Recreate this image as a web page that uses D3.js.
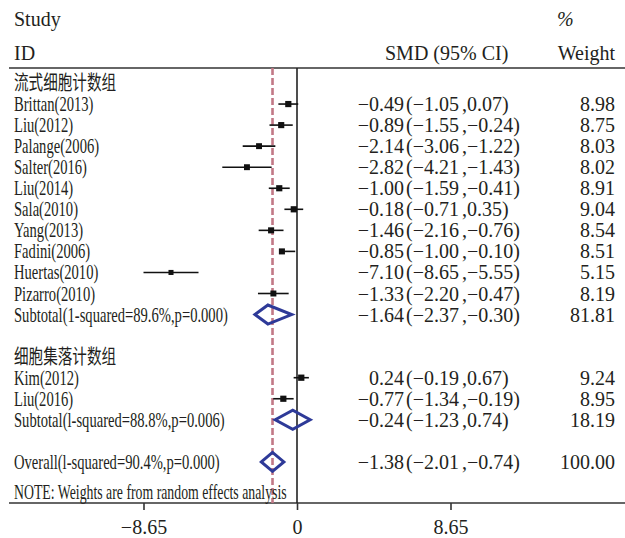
<!DOCTYPE html>
<html>
<head>
<meta charset="utf-8">
<script src="https://cdn.jsdelivr.net/npm/d3@7"></script>
<style>
  html, body { margin: 0; padding: 0; background: #fff; }
  svg { display: block; }
  text { font-family: "Liberation Serif", "Noto Sans CJK SC", serif; fill: #231f20; }
</style>
</head>
<body>
<svg id="chart" width="625" height="538"></svg>
<script>
// ---------------- data ----------------
const group1Title = "流式细胞计数组";
const group1Studies = ["Brittan(2013)", "Liu(2012)", "Palange(2006)", "Salter(2016)", "Liu(2014)",
  "Sala(2010)", "Yang(2013)", "Fadini(2006)", "Huertas(2010)", "Pizarro(2010)"];
const group1SMD    = [-0.49, -0.89, -2.14, -2.82, -1.00, -0.18, -1.46, -0.85, -7.10, -1.33];
const group1Lower  = [-1.05, -1.55, -3.06, -4.21, -1.59, -0.71, -2.16, -1.00, -8.65, -2.20];
const group1Upper  = [0.07, -0.24, -1.22, -1.43, -0.41, 0.35, -0.76, -0.10, -5.55, -0.47];
const group1Weight = [8.98, 8.75, 8.03, 8.02, 8.91, 9.04, 8.54, 8.51, 5.15, 8.19];

const group2Title = "细胞集落计数组";
const group2Studies = ["Kim(2012)", "Liu(2016)"];
const group2SMD    = [0.24, -0.77];
const group2Lower  = [-0.19, -1.34];
const group2Upper  = [0.67, -0.19];
const group2Weight = [9.24, 8.95];

const pooledLabels = ["Subtotal(1-squared=89.6%,p=0.000)", "Subtotal(l-squared=88.8%,p=0.006)", "Overall(l-squared=90.4%,p=0.000)"];
const pooledSMD    = [-1.64, -0.24, -1.38];
const pooledLower  = [-2.37, -1.23, -2.01];
const pooledUpper  = [-0.30, 0.74, -0.74];
const pooledWeight = [81.81, 18.19, 100.00];

const tickValues = [-8.65, 0, 8.65];
const noteText = "NOTE: Weights are from random effects analysis";

// ---------------- layout ----------------
const svg = d3.select("#chart");
const x = d3.scaleLinear().domain([-8.65, 8.65]).range([143.5, 450.5]);
const rowY = d3.scaleLinear().domain([0, 1]).range([83, 104.05]);
const topLine = 68, axisY = 503;
const leftX = 14, compress = 0.73;
const estX = 404, wRight = 615;
const fmt = d3.format(".2f");
const numFmt = v => fmt(v).replace("-", "\u2212");

// build rows
const rows = [];
rows.push({ i: 0, kind: "title", label: group1Title });
group1Studies.forEach((s, k) => rows.push({ i: 1 + k, kind: "study", label: s,
  smd: group1SMD[k], lo: group1Lower[k], hi: group1Upper[k], w: group1Weight[k] }));
rows.push({ i: 11, kind: "pooled", label: pooledLabels[0], smd: pooledSMD[0], lo: pooledLower[0], hi: pooledUpper[0], w: pooledWeight[0] });
rows.push({ i: 13, kind: "title", label: group2Title });
group2Studies.forEach((s, k) => rows.push({ i: 14 + k, kind: "study", label: s,
  smd: group2SMD[k], lo: group2Lower[k], hi: group2Upper[k], w: group2Weight[k] }));
rows.push({ i: 16, kind: "pooled", label: pooledLabels[1], smd: pooledSMD[1], lo: pooledLower[1], hi: pooledUpper[1], w: pooledWeight[1] });
rows.push({ i: 18, kind: "pooled", label: pooledLabels[2], smd: pooledSMD[2], lo: pooledLower[2], hi: pooledUpper[2], w: pooledWeight[2] });

// ---------------- headers ----------------
svg.append("text").attr("x", leftX).attr("y", 26).attr("font-size", 20).text("Study");
svg.append("text").attr("x", leftX).attr("y", 60).attr("font-size", 20).text("ID");
svg.append("text").attr("x", 385).attr("y", 60).attr("font-size", 20).text("SMD (95% CI)");
svg.append("text").attr("x", 557).attr("y", 26).attr("font-size", 20).attr("font-style", "italic").text("%");
svg.append("text").attr("x", wRight).attr("y", 60).attr("font-size", 20).attr("text-anchor", "end").text("Weight");

// horizontal lines
svg.append("line").attr("x1", 9).attr("x2", 625).attr("y1", topLine).attr("y2", topLine)
  .attr("stroke", "#333").attr("stroke-width", 1.6);
svg.append("line").attr("x1", 9).attr("x2", 625).attr("y1", axisY).attr("y2", axisY)
  .attr("stroke", "#333").attr("stroke-width", 1.6);

// zero line
svg.append("line").attr("x1", x(0)).attr("x2", x(0)).attr("y1", topLine).attr("y2", axisY)
  .attr("stroke", "#222").attr("stroke-width", 1.6);

// overall dashed line
svg.append("line").attr("x1", x(pooledSMD[2])).attr("x2", x(pooledSMD[2]))
  .attr("y1", topLine).attr("y2", axisY)
  .attr("stroke", "#c27886").attr("stroke-width", 2.6).attr("stroke-dasharray", "7,3");

// axis ticks
const axis = d3.axisBottom(x).tickValues(tickValues).tickSize(7).tickSizeOuter(0)
  .tickFormat(d => d === 0 ? "0" : numFmt(d));
const ag = svg.append("g").attr("transform", `translate(0,${axisY})`).call(axis);
ag.attr("font-family", null);
ag.select(".domain").remove();
ag.selectAll(".tick line").attr("stroke", "#333").attr("stroke-width", 1.6);
ag.selectAll(".tick text").attr("font-size", 20).attr("dy", null).attr("y", 31)
  .attr("font-family", "Liberation Serif").attr("fill", "#231f20");

// ---------------- left labels ----------------
svg.append("g").selectAll("text").data(rows).join("text")
  .attr("transform", d => `translate(${leftX},${rowY(d.i) + 7}) scale(${compress},1)`)
  .attr("font-size", 20)
  .text(d => d.label);

svg.append("text")
  .attr("transform", `translate(${leftX},499) scale(0.69,1)`)
  .attr("font-size", 20).text(noteText);

// ---------------- right columns ----------------
const valRows = rows.filter(d => d.kind !== "title");
svg.append("g").selectAll("text").data(valRows).join("text")
  .attr("x", estX).attr("y", d => rowY(d.i) + 7).attr("font-size", 20)
  .attr("text-anchor", "end").text(d => numFmt(d.smd));

const ci = svg.append("g").selectAll("text").data(valRows).join("text")
  .attr("x", estX).attr("y", d => rowY(d.i) + 7).attr("font-size", 20);
ci.append("tspan").attr("dx", 2).text("(");
ci.append("tspan").text(d => numFmt(d.lo));
ci.append("tspan").attr("dx", 3).text(",");
ci.append("tspan").text(d => numFmt(d.hi));
ci.append("tspan").text(")");

svg.append("g").selectAll("text").data(valRows).join("text")
  .attr("x", wRight).attr("y", d => rowY(d.i) + 7).attr("font-size", 20)
  .attr("text-anchor", "end").text(d => fmt(d.w));

// ---------------- marks ----------------
const studies = rows.filter(d => d.kind === "study");
const mk = svg.append("g");
mk.selectAll("line.ci").data(studies).join("line").attr("class", "ci")
  .attr("x1", d => x(d.lo)).attr("x2", d => x(d.hi))
  .attr("y1", d => rowY(d.i)).attr("y2", d => rowY(d.i))
  .attr("stroke", "#111").attr("stroke-width", 1.6);
const boxSize = w => 3.5 + 0.3 * w;
mk.selectAll("rect").data(studies).join("rect")
  .attr("x", d => x(d.smd) - boxSize(d.w) / 2).attr("y", d => rowY(d.i) - boxSize(d.w) / 2)
  .attr("width", d => boxSize(d.w)).attr("height", d => boxSize(d.w))
  .attr("fill", "#111");

const pooled = rows.filter(d => d.kind === "pooled");
const halfH = 9.5;
mk.selectAll("path.dia").data(pooled).join("path").attr("class", "dia")
  .attr("d", d => {
    const y = rowY(d.i);
    return `M${x(d.lo)},${y}L${x(d.smd)},${y - halfH}L${x(d.hi)},${y}L${x(d.smd)},${y + halfH}Z`;
  })
  .attr("fill", "none").attr("stroke", "#2e3a98").attr("stroke-width", 3)
  .attr("stroke-linejoin", "miter");
</script>
</body>
</html>
